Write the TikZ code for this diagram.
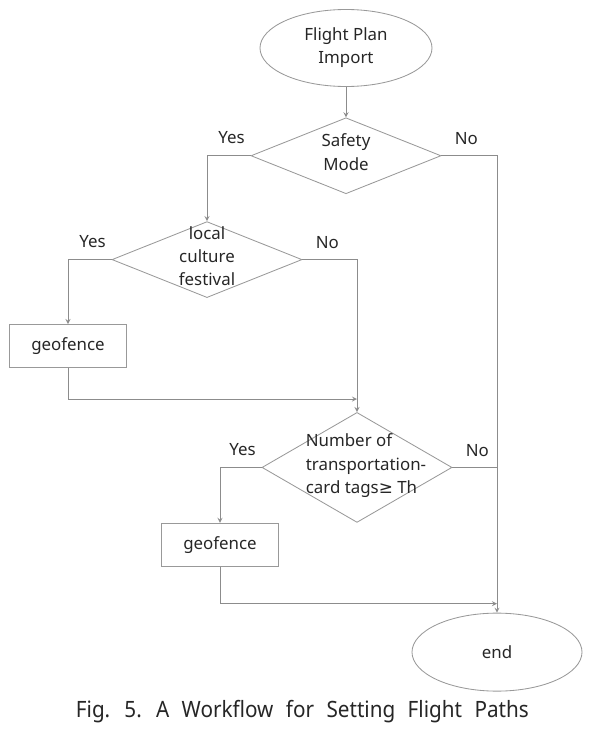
\documentclass[tikz,border=0pt]{standalone}
\usepackage{fontspec}
\setmainfont{Noto Sans}
\newfontfamily\symfont{DejaVu Sans}
\usepackage{graphicx}
\usetikzlibrary{shapes.geometric, arrows, positioning, calc}

\begin{document}
\begin{tikzpicture}[
        node distance=0.75cm and 1.5cm,
        >=stealth,
        font=\fontsize{12}{16.5}\selectfont,
        every node/.style={text=black!85},
        % node styles
        startstop/.style={ellipse, draw=gray!80, line width=0.6pt, minimum width=4.3cm, minimum height=1.925cm, align=center},
        decision/.style={diamond, aspect=2, draw=gray!80, line width=0.6pt, minimum width=4.75cm, minimum height=1.9cm, inner sep=0pt},
        process/.style={rectangle, draw=gray!80, line width=0.6pt, minimum width=2.925cm, minimum height=1.075cm},
        arrow/.style={draw=gray!90, line width=0.6pt, ->},
        line/.style={draw=gray!90, line width=0.6pt},
        yeslbl/.style={pos=0, xshift=-0.475cm, yshift=0.45cm},
        nolbl/.style={pos=0, xshift=0.625cm, yshift=0.425cm}
    ]

    \useasboundingbox (0,0) rectangle (15.15,-18.3);

    % --- 1. NODES ---
    \node[startstop] at (8.65,-1.2) (start) {Flight Plan\\Import};

    \node[decision, below=0.76cm of start] (safe)
        {\raisebox{-3.2pt}{\smash{\begin{tabular}{@{}c@{}}Safety\\Mode\end{tabular}}}};

    \node[decision, below=0.675cm of safe, xshift=-3.475cm] (local)
        {\raisebox{-3.2pt}{\smash{\begin{tabular}{@{}c@{}}local\\culture\\festival\end{tabular}}}};
    \node[process, below=0.65cm of local, xshift=-3.475cm] (fence1) {geofence};

    \node[decision, minimum height=2.75cm, below=2.85cm of local, xshift=3.75cm] (tags)
        {\kern0.45cm\raisebox{-3.2pt}{\smash{\begin{tabular}{@{}l@{}}Number of\\transportation-\\card tags{\symfont ≥} Th\end{tabular}}}};
    \node[process, below=0cm of tags, xshift=-3.425cm] (fence2) {geofence};

    \node[startstop, minimum width=4.25cm, minimum height=1.95cm, below=1.15cm of fence2, xshift=6.925cm] (end) {end};

    % merge points
    \coordinate[above=0.325cm of tags.north] (merge1);
    \coordinate[above=0.225cm of end.north] (merge2);

    % --- 2. MAIN FLOW ---
    \draw[arrow] (start) -- (safe);
    \draw[arrow] (safe.west) -| node[yeslbl] {Yes} (local.north);
    \draw[arrow] (safe.east) -| node[nolbl] {No} (end.north);

    \draw[arrow] (local.west) -| node[yeslbl] {Yes} (fence1.north);
    \draw[arrow] (local.east) -| node[nolbl] {No} (tags.north);
    \draw[arrow] (fence1.south) |- (merge1);

    \draw[arrow] (tags.west) -| node[yeslbl] {Yes} (fence2.north);
    \draw[line]  (tags.east) -- node[nolbl] {No} (tags.east -| end.north);
    \draw[arrow] (fence2.south) |- (merge2);

    % --- 3. CAPTION ---
    \node[font=\fontsize{16}{18}\selectfont] at (7.56,-17.8) (caption)
        {\scalebox{0.92}[1]{\spaceskip=0.6em Fig. 5. A Workflow for Setting Flight Paths}};

\end{tikzpicture}
\end{document}
